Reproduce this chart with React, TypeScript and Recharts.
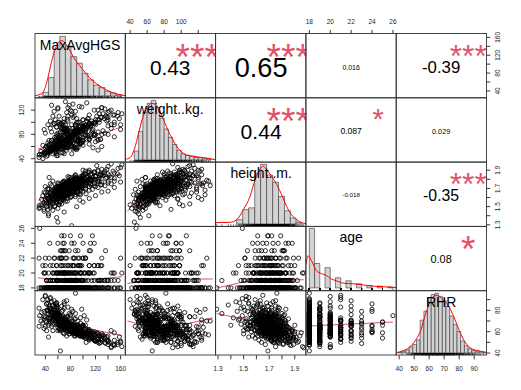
import { ComposedChart, Scatter, Line, XAxis, YAxis, ReferenceArea } from 'recharts'

// ---- observations (one entry per person, same order in every array) ----
const hgs = [
  82, 60, 58, 45,
  38, 52, 44, 60, 31, 48,
  42, 55, 30, 48, 62, 40, 52, 66, 45, 58, 38,
  50, 64, 42, 58, 72, 47, 55, 68, 40, 60, 52, 75, 46,
  55, 62, 48, 70, 58, 66, 52, 80, 60, 45, 64, 72, 56, 68, 50, 88, 62, 58, 74, 54, 66, 48, 60, 95, 70, 57,
  62, 70, 55, 78, 66, 60, 84, 72, 58, 64, 76, 68, 92, 60, 74, 65, 56, 80, 70, 100, 63, 75, 68, 58, 86, 72, 66, 110, 62, 78, 70, 82, 64, 96,
  70, 82, 64, 90, 76, 68, 104, 72, 85, 60, 78, 94, 74, 66, 88, 80, 120, 70, 84, 76, 98, 68, 90, 82, 74, 112, 78, 86, 130, 72,
  80, 92, 74, 100, 86, 118, 78, 96, 88, 140, 84, 104, 76, 94, 110, 90, 82, 126, 98, 86, 106, 150, 92, 80, 114, 100, 88,
  96, 110, 88, 124, 102, 136, 94, 116, 106, 145, 98, 120, 108, 132, 100, 158,
  112, 128, 104, 140, 118, 150, 108, 135, 124,
  138, 160, 122, 145,
  45, 70, 38, 90, 55, 33, 62, 48, 100, 58,
  75, 40, 95, 52, 66, 110, 44, 80, 58, 70,
  50, 88, 64, 120, 42, 76, 58, 96, 70, 36,
  60, 105, 48, 82, 68, 130, 54, 90, 74, 40,
  66, 140, 52, 92, 78, 46, 115, 60, 84, 72,
  62, 100, 76, 150, 56, 88, 70, 124, 44, 94,
  80, 58, 110, 72, 135, 92, 64, 104, 86, 50,
  96, 70, 128, 84, 60, 112, 78, 145, 90, 66,
  88, 118, 74, 100, 160, 82, 106, 68, 94, 130,
  102, 76, 140, 92, 116, 84, 124, 98, 70, 108,
  110, 86, 150, 98, 126, 80, 118, 104, 138, 92,
  120, 96, 142, 108, 88, 130, 114, 155, 100, 126,
  134, 110, 148, 124, 100, 156, 140, 118, 130, 162,
  30, 36, 34, 42, 38, 44, 40, 48, 52, 46,
  48, 62, 55, 70, 44, 66, 58, 82, 52, 74,
  60, 78, 50, 68, 92, 56, 72, 64, 86, 48,
  70, 58, 84, 66, 54, 96, 62, 76, 50, 68,
  80, 60, 72, 88, 56, 104, 66, 74, 92, 62,
  68, 84, 58, 98, 76, 64, 110, 70, 86, 60,
  90, 72, 66, 118, 80, 62, 96, 76, 104, 70,
  84, 100, 74, 92, 68, 124, 86, 78, 108, 96,
  94, 82, 114, 88, 106, 76, 120, 100, 132, 110,
  52, 64, 58, 72, 66, 80, 62, 90, 76, 98,
  56, 70, 62, 84, 68, 74, 88, 72, 100, 86,
  46, 60, 78, 54, 82, 66, 94, 70, 112, 102,
  58, 66, 74, 62, 90, 70, 84, 106, 78, 118,
  42, 68, 56, 80, 64, 92, 72, 60, 96, 88,
  54, 62, 86, 70, 58, 100, 76, 84, 90, 128,
  64, 74, 60, 82, 96, 68, 110, 80, 88, 104,
]

const weight = [
  48, 45, 52, 50,
  46, 55, 50, 58, 47, 52,
  50, 56, 46, 102, 60, 48, 62, 98, 52, 70, 49,
  55, 60, 50, 64, 58, 53, 66, 62, 51, 124, 57, 68, 54,
  58, 64, 52, 70, 60, 66, 55, 74, 62, 50, 68, 80, 59, 65, 128, 86, 63, 57, 72, 61, 90, 54, 66, 78, 69, 60,
  62, 68, 58, 75, 64, 60, 82, 70, 57, 66, 73, 95, 78, 61, 71, 65, 59, 84, 67, 88, 63, 105, 69, 58, 80, 72, 64, 92, 62, 76, 68, 118, 66, 85,
  66, 78, 62, 84, 72, 68, 90, 70, 80, 60, 74, 100, 71, 65, 86, 76, 96, 69, 82, 73, 125, 67, 88, 79, 72, 94, 75, 84, 108, 70,
  74, 86, 70, 92, 80, 98, 72, 88, 82, 104, 78, 95, 71, 87, 112, 84, 77, 100, 90, 81, 132, 96, 86, 75, 98, 93, 83,
  85, 96, 80, 54, 90, 110, 84, 58, 92, 120, 87, 104, 95, 114, 88, 106,
  94, 108, 88, 116, 98, 100, 92, 122, 104,
  102, 96, 110, 90,
  62, 48, 88, 55, 75, 52, 110, 60, 70, 45,
  58, 82, 64, 96, 50, 72, 66, 120, 55, 78,
  70, 56, 92, 68, 60, 102, 48, 76, 84, 62,
  66, 88, 54, 112, 72, 60, 98, 64, 80, 58,
  74, 94, 58, 70, 128, 62, 86, 100, 66, 82,
  68, 104, 80, 76, 62, 118, 90, 72, 58, 86,
  76, 92, 64, 134, 82, 70, 98, 78, 110, 66,
  84, 100, 72, 90, 122, 80, 68, 96, 106, 74,
  86, 78, 116, 94, 88, 70, 102, 84, 126, 80,
  92, 110, 80, 100, 88, 130, 84, 96, 76, 106,
  98, 86, 112, 90, 104, 82, 120, 94, 108, 88,
  100, 92, 118, 106, 96, 124, 102, 110, 94, 114,
  106, 98, 112, 120, 104, 116, 108, 100, 124, 114,
  42, 40, 47, 44, 50, 46, 52, 55, 48, 58,
  58, 72, 50, 64, 96, 56, 68, 62, 110, 54,
  66, 60, 84, 56, 70, 104, 62, 76, 58, 90,
  62, 80, 56, 72, 118, 66, 58, 86, 70, 64,
  74, 64, 96, 58, 70, 80, 62, 88, 68, 100,
  60, 76, 92, 66, 58, 84, 72, 106, 64, 78,
  70, 88, 62, 80, 74, 96, 66, 124, 78, 60,
  82, 68, 90, 74, 100, 70, 86, 64, 78, 94,
  76, 96, 84, 72, 102, 88, 80, 92, 86, 98,
  64, 56, 76, 60, 88, 66, 72, 58, 84, 70,
  52, 68, 62, 80, 58, 74, 92, 66, 70, 82,
  70, 54, 64, 98, 60, 72, 66, 88, 76, 80,
  56, 74, 60, 68, 82, 64, 108, 72, 90, 78,
  60, 50, 72, 64, 76, 58, 86, 70, 68, 94,
  66, 78, 58, 92, 70, 62, 80, 74, 100, 72,
  62, 58, 82, 70, 64, 90, 72, 68, 96, 84,
]

const heightM = [
  1.29, 1.33, 1.38, 1.42,
  1.45, 1.46, 1.47, 1.48, 1.49, 1.49,
  1.50, 1.50, 1.51, 1.51, 1.52, 1.52, 1.53, 1.53, 1.54, 1.54, 1.54,
  1.55, 1.55, 1.56, 1.56, 1.56, 1.57, 1.57, 1.58, 1.58, 1.58, 1.59, 1.59, 1.59,
  1.60, 1.60, 1.60, 1.61, 1.61, 1.61, 1.61, 1.61, 1.62, 1.62, 1.62, 1.62, 1.62, 1.62, 1.63, 1.63, 1.63, 1.63, 1.63, 1.63, 1.64, 1.64, 1.64, 1.64, 1.64, 1.64,
  1.65, 1.65, 1.65, 1.65, 1.65, 1.65, 1.65, 1.66, 1.66, 1.66, 1.66, 1.66, 1.66, 1.66, 1.67, 1.67, 1.67, 1.67, 1.67, 1.67, 1.67, 1.68, 1.68, 1.68, 1.68, 1.68, 1.68, 1.68, 1.69, 1.69, 1.69, 1.69, 1.69, 1.69,
  1.70, 1.70, 1.70, 1.70, 1.70, 1.70, 1.70, 1.71, 1.71, 1.71, 1.71, 1.71, 1.71, 1.72, 1.72, 1.72, 1.72, 1.72, 1.72, 1.73, 1.73, 1.73, 1.73, 1.73, 1.73, 1.74, 1.74, 1.74, 1.74, 1.74,
  1.75, 1.75, 1.75, 1.75, 1.75, 1.75, 1.76, 1.76, 1.76, 1.76, 1.76, 1.76, 1.77, 1.77, 1.77, 1.77, 1.77, 1.78, 1.78, 1.78, 1.78, 1.78, 1.79, 1.79, 1.79, 1.79, 1.79,
  1.80, 1.80, 1.80, 1.80, 1.81, 1.81, 1.81, 1.82, 1.82, 1.82, 1.83, 1.83, 1.83, 1.84, 1.84, 1.84,
  1.85, 1.85, 1.86, 1.86, 1.87, 1.87, 1.88, 1.89, 1.89,
  1.91, 1.93, 1.95, 1.97,
  1.40, 1.44, 1.47, 1.50, 1.51, 1.52, 1.53, 1.54, 1.55, 1.55,
  1.56, 1.57, 1.57, 1.58, 1.58, 1.59, 1.59, 1.60, 1.60, 1.60,
  1.61, 1.61, 1.62, 1.62, 1.62, 1.63, 1.63, 1.63, 1.61, 1.62,
  1.64, 1.64, 1.65, 1.65, 1.65, 1.66, 1.66, 1.66, 1.64, 1.65,
  1.67, 1.67, 1.68, 1.68, 1.68, 1.69, 1.69, 1.69, 1.67, 1.68,
  1.70, 1.70, 1.70, 1.71, 1.71, 1.71, 1.70, 1.71, 1.70, 1.71,
  1.72, 1.72, 1.72, 1.73, 1.73, 1.73, 1.72, 1.73, 1.72, 1.73,
  1.74, 1.74, 1.74, 1.75, 1.75, 1.75, 1.74, 1.75, 1.74, 1.75,
  1.76, 1.76, 1.76, 1.77, 1.77, 1.77, 1.76, 1.77, 1.76, 1.77,
  1.78, 1.78, 1.78, 1.79, 1.79, 1.79, 1.78, 1.79, 1.78, 1.79,
  1.80, 1.80, 1.81, 1.81, 1.82, 1.82, 1.80, 1.81, 1.82, 1.80,
  1.83, 1.83, 1.84, 1.84, 1.85, 1.85, 1.86, 1.86, 1.83, 1.84,
  1.87, 1.88, 1.89, 1.90, 1.90, 1.92, 1.94, 1.88, 1.91, 1.96,
  1.48, 1.52, 1.58, 1.63, 1.66, 1.69, 1.72, 1.75, 1.78, 1.82,
  1.52, 1.55, 1.57, 1.58, 1.59, 1.60, 1.60, 1.61, 1.61, 1.62,
  1.62, 1.63, 1.63, 1.63, 1.64, 1.64, 1.64, 1.65, 1.65, 1.65,
  1.65, 1.66, 1.66, 1.66, 1.66, 1.67, 1.67, 1.67, 1.67, 1.68,
  1.68, 1.68, 1.68, 1.69, 1.69, 1.69, 1.69, 1.70, 1.70, 1.70,
  1.70, 1.70, 1.71, 1.71, 1.71, 1.71, 1.72, 1.72, 1.72, 1.72,
  1.73, 1.73, 1.73, 1.73, 1.74, 1.74, 1.74, 1.75, 1.75, 1.75,
  1.75, 1.76, 1.76, 1.76, 1.77, 1.77, 1.77, 1.78, 1.78, 1.79,
  1.79, 1.80, 1.80, 1.81, 1.82, 1.83, 1.84, 1.85, 1.87, 1.90,
  1.58, 1.61, 1.64, 1.66, 1.68, 1.70, 1.72, 1.74, 1.77, 1.81,
  1.60, 1.63, 1.65, 1.67, 1.69, 1.71, 1.73, 1.76, 1.79, 1.83,
  1.56, 1.62, 1.66, 1.68, 1.70, 1.72, 1.75, 1.78, 1.80, 1.86,
  1.59, 1.64, 1.67, 1.69, 1.71, 1.73, 1.75, 1.77, 1.82, 1.88,
  1.54, 1.60, 1.65, 1.68, 1.70, 1.72, 1.74, 1.76, 1.80, 1.84,
  1.57, 1.63, 1.66, 1.69, 1.71, 1.73, 1.75, 1.78, 1.81, 1.85,
  1.61, 1.64, 1.67, 1.70, 1.72, 1.74, 1.76, 1.79, 1.82, 1.89,
]

const age = [
  18, 19, 18, 20, 18, 21, 18, 19, 26, 18,
  18, 18, 22, 19, 18, 20, 18, 23, 18, 19,
  20, 18, 18, 19, 21, 18, 24, 18, 20, 18,
  18, 19, 18, 22, 18, 20, 18, 18, 19, 25,
  18, 21, 18, 19, 18, 20, 18, 23, 18, 19,
  20, 18, 18, 22, 19, 18, 18, 21, 18, 20,
  18, 19, 18, 20, 18, 24, 18, 19, 18, 22,
  21, 18, 18, 19, 18, 20, 18, 18, 23, 19,
  18, 20, 18, 18, 19, 22, 18, 21, 18, 20,
  18, 19, 18, 25, 18, 20, 18, 19, 18, 21,
  20, 18, 19, 18, 18, 22, 18, 20, 18, 19,
  18, 18, 21, 19, 18, 20, 18, 24, 18, 23,
  19, 18, 18, 20, 18, 22, 18, 19, 18, 21,
  18, 20, 18, 19, 18, 18, 21, 18, 20, 19,
  18, 19, 18, 22, 18, 20, 18, 25, 18, 19,
  20, 18, 18, 19, 21, 18, 23, 18, 20, 18,
  18, 19, 18, 20, 18, 22, 18, 24, 18, 19,
  18, 21, 18, 20, 18, 19, 18, 22, 18, 20,
  18, 20, 18, 19, 22, 18, 18, 21, 18, 19,
  19, 18, 18, 20, 18, 23, 18, 19, 18, 20,
  18, 18, 21, 18, 19, 18, 20, 18, 24, 18,
  20, 18, 19, 18, 18, 22, 18, 19, 18, 21,
  18, 19, 18, 20, 18, 18, 25, 18, 19, 18,
  22, 18, 18, 19, 18, 20, 18, 21, 18, 19,
  18, 20, 18, 18, 19, 18, 23, 18, 20, 18,
  19, 18, 21, 18, 18, 20, 18, 19, 18, 22,
  18, 18, 19, 24, 18, 20, 18, 18, 21, 19,
  20, 18, 18, 19, 18, 22, 18, 20, 18, 18,
  18, 19, 18, 21, 18, 18, 20, 18, 19, 23,
  18, 20, 18, 19, 18, 21, 18, 18, 22, 19,
  19, 18, 20, 18, 18, 19, 18, 24, 18, 20,
  18, 21, 18, 19, 20, 18, 22, 18, 19, 18,
  18, 18, 19, 20, 18, 21, 18, 19, 18, 22,
  18, 20, 18, 19, 18, 18, 23, 18, 20, 19,
  19, 18, 21, 18, 18, 20, 18, 19, 18, 24,
  18, 18, 20, 19, 18, 22, 18, 18, 21, 19,
  20, 18, 18, 19, 18, 20, 18, 25, 18, 19,
  18, 21, 18, 18, 19, 18, 20, 18, 22, 18,
  19, 18, 20, 18, 18, 19, 21, 18, 18, 20,
  18, 18, 19, 23, 18, 20, 18, 19, 18, 21,
  20, 18, 18, 19, 22, 18, 18, 20, 19, 18,
  18, 19, 18, 21, 18, 18, 20, 18, 19, 24,
  18, 20, 19, 18, 18, 22, 18, 19, 18, 20,
  21, 18, 18, 19, 18, 20, 18, 18, 23, 19,
  18, 19, 18, 20, 18, 21, 18, 19, 18, 18,
  20, 18, 22, 18, 19, 18, 18, 20, 18, 19,
  18, 18, 19, 18, 21, 18, 20, 18, 19, 22,
]

const rhr = [
  81, 77, 85, 73,
  79, 71, 87, 67, 75, 91,
  61, 83, 65, 69, 63, 93, 67, 79, 55, 87, 63,
  65, 69, 69, 73, 63, 81, 67, 67, 65, 71, 61, 61, 71,
  73, 67, 79, 63, 75, 69, 85, 61, 71, 77, 65, 73, 69, 59, 81, 63, 75, 67, 71, 89, 65, 73, 61, 57, 69, 77,
  69, 65, 75, 63, 71, 79, 59, 67, 73, 61, 69, 65, 57, 83, 63, 71, 77, 61, 67, 55, 73, 65, 69, 87, 59, 67, 63, 53, 75, 61, 71, 65, 42, 59,
  67, 61, 73, 59, 65, 71, 55, 69, 63, 77, 65, 57, 67, 73, 61, 65, 51, 69, 63, 67, 59, 75, 61, 65, 69, 57, 63, 67, 53, 71,
  75, 61, 89, 57, 65, 53, 77, 59, 96, 51, 79, 57, 83, 59, 55, 63, 67, 49, 61, 65, 57, 59, 63, 69, 55, 61, 65,
  73, 57, 77, 53, 75, 49, 65, 59, 71, 61, 81, 51, 59, 57, 65, 55,
  59, 53, 63, 51, 57, 47, 61, 55, 53,
  55, 51, 59, 45,
  66, 88, 72, 58, 80, 70, 62, 92, 66, 76,
  60, 74, 56, 84, 68, 54, 90, 64, 72, 58,
  70, 56, 66, 52, 80, 62, 76, 60, 86, 68,
  64, 50, 82, 60, 70, 58, 74, 66, 56, 94,
  62, 48, 78, 66, 58, 84, 54, 70, 60, 72,
  76, 56, 64, 52, 86, 60, 68, 58, 80, 62,
  60, 82, 54, 70, 50, 64, 74, 58, 66, 88,
  58, 72, 50, 64, 78, 56, 68, 46, 62, 84,
  66, 54, 74, 60, 50, 70, 58, 80, 64, 56,
  62, 74, 52, 66, 58, 70, 54, 64, 82, 60,
  60, 72, 48, 64, 56, 76, 58, 66, 52, 70,
  58, 68, 50, 62, 72, 54, 60, 48, 66, 56,
  54, 62, 48, 58, 66, 50, 56, 60, 52, 46,
  82, 90, 78, 86, 74, 80, 70, 76, 72, 68,
  72, 66, 80, 62, 76, 70, 84, 60, 74, 68,
  70, 58, 76, 66, 60, 78, 64, 72, 56, 82,
  64, 74, 58, 70, 80, 56, 68, 62, 78, 66,
  60, 72, 66, 58, 76, 54, 70, 64, 62, 74,
  68, 60, 78, 56, 64, 72, 52, 66, 62, 80,
  58, 66, 74, 52, 62, 76, 60, 68, 56, 70,
  62, 56, 70, 60, 74, 50, 64, 68, 58, 60,
  60, 66, 54, 62, 58, 70, 52, 64, 56, 60,
  78, 70, 74, 64, 68, 62, 76, 58, 66, 60,
  74, 66, 72, 60, 70, 64, 58, 68, 56, 62,
  82, 72, 62, 76, 60, 68, 58, 70, 54, 58,
  70, 68, 64, 74, 58, 66, 62, 56, 68, 52,
  86, 70, 76, 62, 72, 60, 66, 74, 58, 64,
  76, 72, 60, 68, 74, 56, 64, 62, 60, 50,
  68, 64, 74, 60, 56, 70, 58, 66, 62, 54,
]

const varNames = ['MaxAvgHGS', 'weight..kg.', 'height..m.', 'age', 'RHR']

// ---- histograms on the diagonal (relative bar heights, tallest = 100) ----
const hgsBreaks = [36, 45, 54, 63, 72, 81, 90, 99, 108, 117, 126, 135, 144, 153, 162]
const hgsCounts = [6, 31, 79, 100, 84, 66, 55, 38, 27, 18, 14, 8, 5, 2]
const weightBreaks = [45, 50, 55, 60, 65, 70, 75, 80, 85, 90, 95, 100, 105, 110, 115, 120, 125, 130, 135]
const weightCounts = [15, 48, 80, 95, 100, 88, 70, 52, 38, 26, 16, 10, 8, 6, 4, 4, 3, 2]
const heightBreaks = [1.446, 1.493, 1.54, 1.587, 1.633, 1.68, 1.727, 1.773, 1.82, 1.865, 1.91, 1.955]
const heightCounts = [7, 24, 27, 85, 100, 82, 70, 46, 22, 10, 3]
const ageBreaks = [18, 18.5, 19, 19.5, 20, 20.5, 21, 21.5, 22, 22.5, 23, 23.5, 24, 24.5, 25, 25.5, 26]
const ageCounts = [100, 41, 0, 34, 0, 17, 0, 12, 0, 7, 0, 4, 0, 3, 0, 1.5]
const rhrBreaks = [39.3, 41.8, 44.2, 46.7, 49.1, 51.6, 54, 56.5, 58.9, 61.4, 63.9, 66.3, 68.8, 71.2, 73.7, 76.1, 78.6, 81, 83.5, 85.9, 88.4, 90.9, 93.3, 95.8, 98]
const rhrCounts = [1, 3, 5, 10, 14, 22, 55, 70, 92, 98, 100, 95, 88, 78, 62, 48, 36, 20, 12, 7, 4, 3, 2, 1]

// density curves (same relative scale)
const hgsDensX = [23.5, 30, 36.3, 44.2, 49.5, 54.9, 60.2, 65.5, 70.8, 76.1, 81.4, 86.7, 94.7, 105.3, 115.9, 126.6, 137.2, 147.8, 158.5, 167.5]
const hgsDensY = [0.5, 2, 6, 31, 56, 76, 89, 93, 90, 82, 72, 62, 51, 37, 25, 17, 10, 5, 2, 0.5]
const weightDensX = [34, 40, 45, 50, 55, 60, 65, 70, 75, 80, 85, 90, 95, 100, 105, 110, 115, 120, 125, 130, 135, 140]
const weightDensY = [1, 4, 18, 45, 72, 88, 95, 93, 82, 65, 48, 34, 22, 14, 9, 7, 6, 5, 4, 3, 1.5, 0.5]
const heightDensX = [1.284, 1.33, 1.39, 1.42, 1.446, 1.498, 1.55, 1.589, 1.628, 1.654, 1.68, 1.719, 1.759, 1.798, 1.837, 1.876, 1.915, 1.954, 1.99]
const heightDensY = [2, 2.5, 2.5, 4, 7, 24, 46, 74, 92, 97, 91, 80, 66, 49, 29, 15, 7, 2, 0.5]
const ageDensX = [17.68, 17.88, 18.2, 18.68, 19.16, 19.63, 20.11, 20.59, 21.23, 22.19, 23.14, 24.1, 25.06, 26, 26.32]
const ageDensY = [40, 54, 46, 29, 24, 21, 15, 12, 8, 7, 5, 3, 2, 1, 0.5]
const rhrDensX = [38.4, 42, 45.5, 50, 54.4, 57.7, 61.1, 64.4, 66.6, 70, 73.3, 76.6, 80, 83.3, 86.6, 91.1, 96.7, 98.1]
const rhrDensY = [0.5, 3, 7, 18, 38, 66, 88, 97, 95, 88, 77, 60, 38, 21, 10, 4.5, 1.7, 0.5]

// ---- smoothing lines in the lower panels ----
const smWeightHgsX = [28, 50, 75, 100, 125, 150, 162]
const smWeightHgsY = [56, 60, 66, 73, 80, 88, 93]
const smHeightHgsX = [29, 45, 60, 80, 100, 120, 140, 162]
const smHeightHgsY = [1.57, 1.62, 1.66, 1.72, 1.77, 1.81, 1.835, 1.85]
const smHeightWeightX = [37, 50, 65, 80, 100, 120, 137]
const smHeightWeightY = [1.45, 1.6, 1.7, 1.735, 1.745, 1.75, 1.76]
const smAgeHgsX = [28, 60, 85, 110, 135, 162]
const smAgeHgsY = [19.35, 19.1, 19.0, 19.1, 19.3, 19.5]
const smAgeWeightX = [37, 55, 71, 90, 110, 137]
const smAgeWeightY = [18.6, 18.9, 19.1, 19.2, 19.2, 19.2]
const smAgeHeightX = [1.29, 1.4, 1.5, 1.6, 1.75, 1.97]
const smAgeHeightY = [18.0, 18.4, 18.8, 19.0, 19.05, 19.1]
const smRhrHgsX = [28, 60, 90, 120, 162]
const smRhrHgsY = [74, 70, 65.5, 61.5, 56.5]
const smRhrWeightX = [37, 55, 71, 90, 110, 137]
const smRhrWeightY = [70, 66.5, 64.5, 65, 68, 73]
const smRhrHeightX = [1.29, 1.45, 1.6, 1.75, 1.9, 1.97]
const smRhrHeightY = [77, 73, 69, 65, 61.5, 60]
const smRhrAgeX = [18, 20, 22, 24, 26]
const smRhrAgeY = [65.3, 66.3, 67.2, 68.1, 69]

// ---- correlations in the upper panels ----
const corrPairs = [[0, 1], [0, 2], [0, 3], [0, 4], [1, 2], [1, 3], [1, 4], [2, 3], [2, 4], [3, 4]]
const corrText = ['0.43', '0.65', '0.016', '-0.39', '0.44', '0.087', '0.029', '-0.018', '-0.35', '0.08']
const corrStars = ['***', '***', '', '***', '***', '*', '', '', '***', '*']

// ---- axis ticks ----
const axisTicks = [
  [40, 60, 80, 100, 120, 140, 160],
  [40, 60, 80, 100, 120],
  [1.3, 1.4, 1.5, 1.6, 1.7, 1.8, 1.9],
  [18, 20, 22, 24, 26],
  [40, 50, 60, 70, 80, 90],
]
const xTickLabels = [[40, 80, 120, 160], [40, 60, 80, 100], [1.3, 1.5, 1.7, 1.9], [18, 20, 22, 24, 26], [40, 50, 60, 70, 80, 90]]
const yTickLabels = [[40, 80, 120, 160], [40, 80, 120], [1.3, 1.5, 1.7, 1.9], [18, 20, 22, 24, 26], [40, 60, 80]]

const FONT = '"Liberation Sans", Arial, sans-serif'
const X0 = 35
const Y0 = 33.5
const PW = 90.3
const PH = 64.3
const AX = 28
const PAD = 8
const STAR = '#DF536B'
const domains: [number, number][] = [[23.5, 167.5], [34, 140], [1.284, 1.99], [17.68, 26.32], [37.9, 98.1]]
const HIST_Y: [number, number] = [-4, 104]

const vars = [hgs, weight, heightM, age, rhr]
const histBreaks = [hgsBreaks, weightBreaks, heightBreaks, ageBreaks, rhrBreaks]
const histCounts = [hgsCounts, weightCounts, heightCounts, ageCounts, rhrCounts]
const densX = [hgsDensX, weightDensX, heightDensX, ageDensX, rhrDensX]
const densY = [hgsDensY, weightDensY, heightDensY, ageDensY, rhrDensY]
const smoothLines: Record<string, [number[], number[]]> = {
  '10': [smWeightHgsX, smWeightHgsY],
  '20': [smHeightHgsX, smHeightHgsY],
  '21': [smHeightWeightX, smHeightWeightY],
  '30': [smAgeHgsX, smAgeHgsY],
  '31': [smAgeWeightX, smAgeWeightY],
  '32': [smAgeHeightX, smAgeHeightY],
  '40': [smRhrHgsX, smRhrHgsY],
  '41': [smRhrWeightX, smRhrWeightY],
  '42': [smRhrHeightX, smRhrHeightY],
  '43': [smRhrAgeX, smRhrAgeY],
}

const zip = (xs: number[], ys: number[]) => xs.map((x, i) => ({ x, y: ys[i] }))
const frac = (d: [number, number], f: number) => d[0] + f * (d[1] - d[0])
const emWidth = (s: string) =>
  [...s].reduce((w, ch) => w + (ch === '.' ? 0.278 : ch === '-' ? 0.333 : 0.556), 0)

const circleShape = (p: any) => (
  <circle cx={p.cx} cy={p.cy} r={2.1} fill="none" stroke="#000" strokeWidth={0.8} />
)
const rugShape = (p: any) => (
  <line x1={p.cx} x2={p.cx} y1={p.cy} y2={p.cy - 2} stroke="#000" strokeWidth={0.6} />
)

function tickRenderer(side: string, labels: number[]) {
  return (p: any) => {
    const v = p.payload.value
    if (!labels.some(l => Math.abs(l - v) < 1e-9)) return <g />
    const common = { fontSize: 6.5, fontFamily: FONT, fill: '#222', textAnchor: 'middle' as const }
    if (side === 'top') return <text x={p.x} y={p.y - 6.2} {...common}>{String(v)}</text>
    if (side === 'bottom') return <text x={p.x} y={p.y + 11.6} {...common}>{String(v)}</text>
    const cx = side === 'left' ? p.x - 9.3 : p.x + 7.8
    return (
      <text x={cx} y={p.y} dy={2.3} transform={`rotate(-90 ${cx} ${p.y})`} {...common}>
        {String(v)}
      </text>
    )
  }
}

const axisCommon = {
  type: 'number' as const,
  tickSize: 4,
  tickMargin: 0,
  axisLine: false,
  tickLine: { stroke: '#000', strokeWidth: 0.8 },
  interval: 0 as const,
  allowDataOverflow: true,
  stroke: '#000',
}

function diagContent(k: number) {
  const b = histBreaks[k]
  return [
    ...histCounts[k].map((c, i) => (
      <ReferenceArea key={'h' + i} x1={b[i]} x2={b[i + 1]} y1={0} y2={c}
        fill="#D3D3D3" fillOpacity={1} stroke="#333" strokeWidth={0.6} ifOverflow="visible" />
    )),
    <Line key="dens" data={zip(densX[k], densY[k])} dataKey="y" type="monotone"
      stroke="#FF0000" strokeWidth={1} dot={false} isAnimationActive={false} />,
    <Scatter key="rug" data={vars[k].map(v => ({ x: v, y: -4 }))} shape={rugShape} isAnimationActive={false} />,
    <Scatter key="lab" data={[{ x: frac(domains[k], 0.5), y: 86 }]} isAnimationActive={false}
      shape={(p: any) => (
        <text x={p.cx} y={p.cy + 5} fontSize={14} fontFamily={FONT} textAnchor="middle" fill="#000">
          {varNames[k]}
        </text>
      )} />,
  ]
}

function upperContent(r: number, c: number) {
  const idx = corrPairs.findIndex(([a, b]) => a === r && b === c)
  const txt = corrText[idx]
  const base = (0.8 * PW) / emWidth(txt)
  const fs = (base * (Math.abs(parseFloat(txt)) + 0.3)) / 1.3
  const items = [
    <Scatter key="num" data={[{ x: frac(domains[c], 0.5), y: frac(domains[r], 0.5) }]} isAnimationActive={false}
      shape={(p: any) => (
        <text x={p.cx} y={p.cy + 0.358 * fs + 1} fontSize={fs} fontFamily={FONT} textAnchor="middle" fill="#000">
          {txt}
        </text>
      )} />,
  ]
  if (corrStars[idx]) {
    items.push(
      <Scatter key="star" data={[{ x: frac(domains[c], 0.8), y: frac(domains[r], 0.8) }]} isAnimationActive={false}
        shape={(p: any) => (
          <text x={p.cx} y={p.cy + 2 + 0.57 * base} fontSize={base} fontFamily={FONT} textAnchor="middle" fill={STAR}>
            {corrStars[idx]}
          </text>
        )} />
    )
  }
  return items
}

function lowerContent(r: number, c: number) {
  const [sx, sy] = smoothLines[`${r}${c}`]
  return [
    <Scatter key="pts" data={zip(vars[c], vars[r])} shape={circleShape} isAnimationActive={false} />,
    <Line key="sm" data={zip(sx, sy)} dataKey="y" type="monotone" stroke={STAR}
      strokeWidth={1} dot={false} isAnimationActive={false} />,
  ]
}

function PanelChart({ row, col }: { row: number; col: number }) {
  const diag = row === col
  const hasTop = row === 0 && col % 2 === 1
  const hasBottom = row === 4 && col % 2 === 0
  const hasLeft = col === 0 && row % 2 === 1
  const hasRight = col === 4 && row % 2 === 0 && !diag
  const w = PAD + (hasLeft ? AX : 0) + PW + (hasRight ? AX : 0) + PAD
  const h = PAD + (hasTop ? AX : 0) + PH + (hasBottom ? AX : 0) + PAD
  const left = X0 + col * PW - PAD - (hasLeft ? AX : 0)
  const top = Y0 + row * PH - PAD - (hasTop ? AX : 0)

  const xDom = domains[col]
  const yDom = diag ? HIST_Y : domains[row]
  const content = diag ? diagContent(row) : row < col ? upperContent(row, col) : lowerContent(row, col)

  return (
    <div style={{ position: 'absolute', left, top }}>
      <ComposedChart width={w} height={h} margin={{ top: PAD, right: PAD, bottom: PAD, left: PAD }}>
        {hasTop || hasBottom ? (
          <XAxis {...axisCommon} dataKey="x" domain={xDom} height={AX}
            orientation={hasTop ? 'top' : 'bottom'} ticks={axisTicks[col]}
            tick={tickRenderer(hasTop ? 'top' : 'bottom', xTickLabels[col])} />
        ) : (
          <XAxis type="number" dataKey="x" domain={xDom} hide allowDataOverflow />
        )}
        {hasLeft || hasRight ? (
          <YAxis {...axisCommon} dataKey="y" domain={yDom} width={AX}
            orientation={hasLeft ? 'left' : 'right'} ticks={axisTicks[row]}
            tick={tickRenderer(hasLeft ? 'left' : 'right', yTickLabels[row])} />
        ) : (
          <YAxis type="number" dataKey="y" domain={yDom} hide allowDataOverflow />
        )}
        {content}
      </ComposedChart>
    </div>
  )
}

// right-hand axis for the last row sits on a histogram panel, so it gets its own chart
function RightAxisOverlay({ row }: { row: number }) {
  const left = X0 + 4 * PW - PAD
  const top = Y0 + row * PH - PAD
  return (
    <div style={{ position: 'absolute', left, top, pointerEvents: 'none' }}>
      <ComposedChart width={PAD + PW + AX + PAD} height={PAD + PH + PAD}
        margin={{ top: PAD, right: PAD, bottom: PAD, left: PAD }}>
        <XAxis type="number" dataKey="x" domain={domains[4]} hide allowDataOverflow />
        <YAxis {...axisCommon} dataKey="y" domain={domains[row]} width={AX} orientation="right"
          ticks={axisTicks[row]} tick={tickRenderer('right', yTickLabels[row])} />
        <Scatter data={[]} isAnimationActive={false} />
      </ComposedChart>
    </div>
  )
}

export default function App() {
  const panels = []
  const boxes = []
  for (let r = 0; r < 5; r++) {
    for (let c = 0; c < 5; c++) {
      panels.push(<PanelChart key={`${r}-${c}`} row={r} col={c} />)
      boxes.push(
        <rect key={`b${r}-${c}`} x={X0 + c * PW} y={Y0 + r * PH} width={PW} height={PH}
          fill="none" stroke="#333" strokeWidth={0.9} />
      )
    }
  }
  return (
    <div style={{ position: 'absolute', left: 0, top: 0, width: 521, height: 390, background: '#fff', overflow: 'hidden' }}>
      {panels}
      <RightAxisOverlay row={4} />
      <svg width={521} height={390} style={{ position: 'absolute', left: 0, top: 0, pointerEvents: 'none' }}>
        {boxes}
      </svg>
    </div>
  )
}
